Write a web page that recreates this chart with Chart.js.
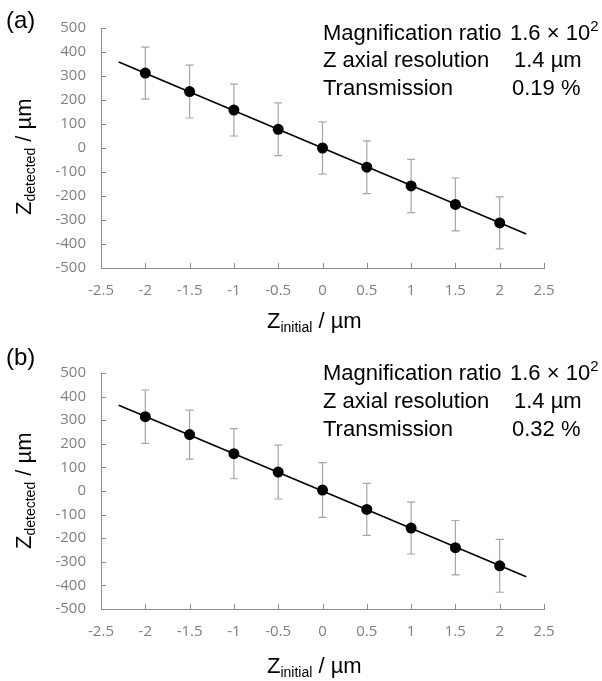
<!DOCTYPE html>
<html>
<head>
<meta charset="utf-8">
<script src="https://cdn.jsdelivr.net/npm/chart.js@4.4.1/dist/chart.umd.min.js"></script>
<style>
  body { margin: 0; background: #fff; }
  #page { position: relative; width: 602px; height: 681px; overflow: hidden; font-family: "Liberation Sans", Arial, sans-serif; color: #000; }
  .panel { position: absolute; left: 0; width: 602px; }
  .txt { position: absolute; white-space: nowrap; font-size: 22px; line-height: 22px; }
  .lbl { position: absolute; font-size: 24px; line-height: 24px; }
  .txt sub { font-size: 14px; vertical-align: -4px; line-height: 0; }
  .sup2 { font-size: 15px; position: relative; top: -9px; }
  .ytitle { transform-origin: 0 0; transform: rotate(-90deg); }
</style>
</head>
<body>
<div id="page">
  <div class="panel" style="top:0;height:340px"><canvas id="chartA" width="602" height="340"></canvas></div>
  <div class="panel" style="top:345px;height:336px"><canvas id="chartB" width="602" height="336"></canvas></div>

  <div class="lbl" style="left:6px;top:8px">(a)</div>
  <div class="lbl" style="left:6px;top:345px">(b)</div>

  <div class="txt" style="left:323px;top:22px">Magnification ratio</div>
  <div class="txt" style="left:510px;top:22px">1.6 × 10<span class="sup2">2</span></div>
  <div class="txt" style="left:323px;top:49px">Z axial resolution</div>
  <div class="txt" style="left:514px;top:49px">1.4 µm</div>
  <div class="txt" style="left:323px;top:77px">Transmission</div>
  <div class="txt" style="left:512px;top:77px">0.19 %</div>

  <div class="txt" style="left:323px;top:362px">Magnification ratio</div>
  <div class="txt" style="left:510px;top:362px">1.6 × 10<span class="sup2">2</span></div>
  <div class="txt" style="left:323px;top:390px">Z axial resolution</div>
  <div class="txt" style="left:514px;top:390px">1.4 µm</div>
  <div class="txt" style="left:323px;top:418px">Transmission</div>
  <div class="txt" style="left:512px;top:418px">0.32 %</div>

  <div class="txt" style="left:267px;top:310px">Z<sub>initial</sub> / µm</div>
  <div class="txt" style="left:267px;top:655px">Z<sub>initial</sub> / µm</div>

  <div class="txt ytitle" style="left:13px;top:215px">Z<sub>detected</sub> / µm</div>
  <div class="txt ytitle" style="left:13px;top:549px">Z<sub>detected</sub> / µm</div>
</div>
<script>
// z positions (x axis)
const zInitial = [-2, -1.5, -1, -0.5, 0, 0.5, 1, 1.5, 2];

// panel (a)
const detectedA = [312, 235, 158, 78, 0, -80, -158, -235, -312];
const errorA = [108, 110, 108, 110, 109, 110, 111, 110, 108];
// panel (b)
const detectedB = [315, 239, 158, 80, 4, -78, -157, -240, -317];
const errorB = [113, 104, 106, 114, 116, 110, 110, 115, 112];

// fitted lines
const fitX = [-2.3, 2.3];
const fitA = [358, -358];
const fitB = [363, -363];

const axisColor = '#8c8c8c';
const tickColor = '#808080';
const errColor = '#a6a6a6';

// error bars, drawn under the markers
const errorBars = {
    id: 'errorBars',
    beforeDatasetsDraw(chart) {
        const ctx = chart.ctx;
        const xs = chart.scales.x, ys = chart.scales.y;
        const ds = chart.data.datasets[0];
        ctx.save();
        ctx.strokeStyle = errColor;
        ctx.lineWidth = 1.2;
        ds.data.forEach((p, i) => {
            const px = xs.getPixelForValue(p.x);
            const top = ys.getPixelForValue(p.y + ds.errors[i]);
            const bot = ys.getPixelForValue(p.y - ds.errors[i]);
            ctx.beginPath();
            ctx.moveTo(px, top); ctx.lineTo(px, bot);
            ctx.moveTo(px - 4, top); ctx.lineTo(px + 4, top);
            ctx.moveTo(px - 4, bot); ctx.lineTo(px + 4, bot);
            ctx.stroke();
        });
        ctx.restore();
    }
};

// tick marks pointing into the plot, like the original
const insideTicks = {
    id: 'insideTicks',
    afterDraw(chart) {
        const ctx = chart.ctx;
        const area = chart.chartArea;
        ctx.save();
        ctx.strokeStyle = axisColor;
        ctx.lineWidth = 1;
        chart.scales.x.ticks.forEach(t => {
            const px = Math.round(chart.scales.x.getPixelForValue(t.value)) + 0.5;
            ctx.beginPath();
            ctx.moveTo(px, area.bottom);
            ctx.lineTo(px, area.bottom - 5);
            ctx.stroke();
        });
        chart.scales.y.ticks.forEach(t => {
            const py = Math.round(chart.scales.y.getPixelForValue(t.value)) + 0.5;
            ctx.beginPath();
            ctx.moveTo(area.left, py);
            ctx.lineTo(area.left + 5, py);
            ctx.stroke();
        });
        ctx.restore();
    }
};

function makeChart(canvasId, detected, errors, fit) {
    const points = zInitial.map((z, i) => ({ x: z, y: detected[i] }));
    const line = fitX.map((x, i) => ({ x: x, y: fit[i] }));

    return new Chart(document.getElementById(canvasId), {
        type: 'scatter',
        data: {
            datasets: [
                {
                    data: points,
                    errors: errors,
                    pointRadius: 5.5,
                    pointBackgroundColor: '#000',
                    pointBorderColor: '#000',
                    pointBorderWidth: 0
                },
                {
                    data: line,
                    showLine: true,
                    pointRadius: 0,
                    borderColor: '#000',
                    borderWidth: 1.6
                }
            ]
        },
        options: {
            responsive: false,
            animation: false,
            events: [],
            layout: { padding: { left: 0, top: 28, right: 58, bottom: 0 } },
            plugins: { legend: { display: false }, tooltip: { enabled: false } },
            scales: {
                x: {
                    type: 'linear',
                    min: -2.5, max: 2.5,
                    afterFit: s => { s.height = 72; },
                    border: { color: axisColor, width: 1 },
                    grid: { drawOnChartArea: false, drawTicks: false },
                    ticks: {
                        stepSize: 0.5,
                        padding: 14,
                        color: tickColor,
                        font: { family: 'Open Sans', size: 15 },
                        callback: v => String(Number(v.toFixed(1)))
                    }
                },
                y: {
                    min: -500, max: 500,
                    afterFit: s => { s.width = 101; },
                    border: { color: axisColor, width: 1 },
                    grid: { drawOnChartArea: false, drawTicks: false },
                    ticks: {
                        stepSize: 100,
                        padding: 15,
                        color: tickColor,
                        font: { family: 'Open Sans', size: 15 }
                    }
                }
            }
        },
        plugins: [errorBars, insideTicks]
    });
}

makeChart('chartA', detectedA, errorA, fitA);
makeChart('chartB', detectedB, errorB, fitB);
</script>
</body>
</html>
